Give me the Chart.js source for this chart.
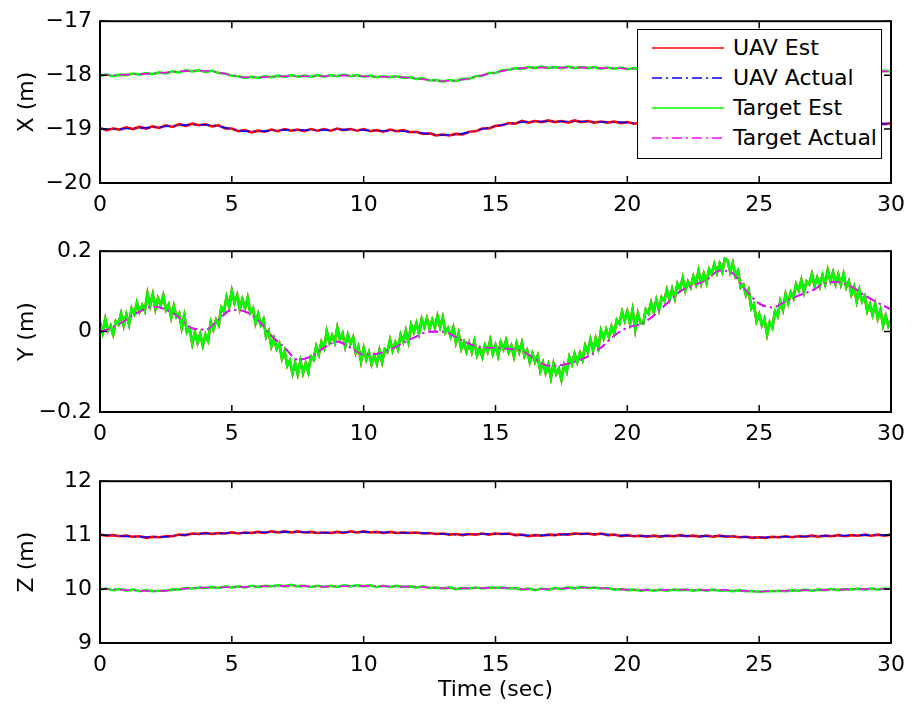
<!DOCTYPE html>
<html>
<head>
<meta charset="utf-8">
<script src="https://cdn.jsdelivr.net/npm/chart.js@4.4.1/dist/chart.umd.min.js"></script>
<style>
    body { margin: 0; background: #fff; }
    #wrap { position: relative; width: 914px; height: 708px; }
    canvas { position: absolute; left: 0; }
    #legend {
        position: absolute; left: 637px; top: 29px; width: 243px; height: 125px;
        border: 1.5px solid #000; background: #fff;
        font-family: "DejaVu Sans", sans-serif; font-size: 22px; color: #000;
        padding-top: 3px; box-sizing: content-box;
    }
    .row { height: 30px; line-height: 30px; display: flex; align-items: center; }
    .row svg { margin-left: 14px; margin-right: 9px; }
</style>
</head>
<body>
<div id="wrap">
    <canvas id="chartX" width="914" height="230" style="top:0"></canvas>
    <canvas id="chartY" width="914" height="230" style="top:230px"></canvas>
    <canvas id="chartZ" width="914" height="248" style="top:460px"></canvas>
    <div id="legend"></div>
</div>
<script>
// sample spacing (sec) of each kind of series
const T_ACTUAL = 0.5;
const T_EST_XZ = 0.25;
const T_EST_Y = 0.1;

const xTicks = [0, 5, 10, 15, 20, 25, 30];

// ---- X (m) ----
const xUavActual = [-19.0, -19.0, -18.99, -18.98, -18.97, -18.95, -18.93, -18.92, -18.92, -18.95,
    -19.0, -19.04, -19.04, -19.03, -19.02, -19.02, -19.02, -19.02, -19.01, -19.01,
    -19.02, -19.03, -19.03, -19.04, -19.06, -19.09, -19.11, -19.1, -19.06, -19.0,
    -18.95, -18.9, -18.87, -18.86, -18.86, -18.86, -18.86, -18.86, -18.87, -18.87,
    -18.88, -18.89, -18.9, -18.91, -18.92, -18.93, -18.94, -18.94, -18.94, -18.94,
    -18.94, -18.93, -18.92, -18.92, -18.91, -18.91, -18.9, -18.9, -18.9, -18.9, -18.9];
const xTargetActual = [-18.0, -18.0, -17.99, -17.98, -17.97, -17.95, -17.93, -17.92, -17.92, -17.95,
    -18.0, -18.04, -18.04, -18.03, -18.02, -18.02, -18.02, -18.02, -18.01, -18.01,
    -18.02, -18.03, -18.03, -18.04, -18.06, -18.09, -18.11, -18.1, -18.06, -18.0,
    -17.95, -17.9, -17.87, -17.86, -17.86, -17.86, -17.86, -17.86, -17.87, -17.87,
    -17.88, -17.89, -17.9, -17.91, -17.92, -17.93, -17.94, -17.94, -17.94, -17.94,
    -17.94, -17.93, -17.92, -17.92, -17.92, -17.92, -17.92, -17.92, -17.92, -17.93, -17.93];
const xUavEst = [-18.98, -19.02, -18.99, -19.01, -18.97, -19.00, -18.96, -18.99, -18.95, -18.98,
    -18.93, -18.96, -18.91, -18.94, -18.90, -18.93, -18.91, -18.95, -18.93, -18.99,
    -18.99, -19.04, -19.02, -19.06, -19.03, -19.05, -19.01, -19.04, -19.00, -19.03,
    -19.01, -19.04, -19.00, -19.03, -19.00, -19.03, -18.99, -19.02, -19.00, -19.03,
    -19.00, -19.04, -19.02, -19.05, -19.01, -19.04, -19.02, -19.06, -19.05, -19.09,
    -19.08, -19.12, -19.10, -19.12, -19.09, -19.10, -19.05, -19.04, -18.99, -18.99,
    -18.94, -18.93, -18.89, -18.90, -18.85, -18.88, -18.85, -18.87, -18.84, -18.87,
    -18.85, -18.88, -18.84, -18.87, -18.85, -18.88, -18.86, -18.88, -18.86, -18.89,
    -18.87, -18.90, -18.88, -18.91, -18.89, -18.92, -18.90, -18.93, -18.91, -18.94,
    -18.92, -18.95, -18.93, -18.95, -18.93, -18.96, -18.92, -18.95, -18.93, -18.95,
    -18.92, -18.95, -18.92, -18.94, -18.91, -18.93, -18.90, -18.93, -18.90, -18.92,
    -18.89, -18.92, -18.89, -18.91, -18.88, -18.91, -18.89, -18.92, -18.89, -18.91, -18.89];
const xTargetEst = [-18.01, -17.99, -18.02, -17.99, -18.00, -17.97, -17.99, -17.96, -17.98, -17.95,
    -17.97, -17.93, -17.95, -17.91, -17.93, -17.91, -17.94, -17.92, -17.96, -17.97,
    -18.01, -18.02, -18.05, -18.03, -18.05, -18.02, -18.04, -18.01, -18.03, -18.00,
    -18.03, -18.01, -18.03, -18.00, -18.03, -18.00, -18.02, -17.99, -18.02, -18.00,
    -18.03, -18.01, -18.04, -18.02, -18.04, -18.02, -18.05, -18.04, -18.07, -18.06,
    -18.10, -18.09, -18.12, -18.09, -18.11, -18.07, -18.07, -18.02, -18.01, -17.96,
    -17.96, -17.91, -17.90, -17.87, -17.88, -17.85, -17.87, -17.84, -17.87, -17.85,
    -17.87, -17.84, -17.87, -17.85, -17.87, -17.85, -17.88, -17.86, -17.88, -17.86,
    -17.89, -17.87, -17.90, -17.88, -17.91, -17.89, -17.92, -17.90, -17.93, -17.91,
    -17.94, -17.92, -17.95, -17.93, -17.95, -17.93, -17.95, -17.93, -17.95, -17.93,
    -17.95, -17.92, -17.94, -17.92, -17.93, -17.91, -17.93, -17.91, -17.92, -17.90,
    -17.92, -17.90, -17.92, -17.90, -17.92, -17.91, -17.93, -17.91, -17.94, -17.92, -17.93];

// ---- Y (m) ---- (UAV and target tracks lie on top of each other)
const yActual = [0.0, 0.011, 0.03, 0.05, 0.062, 0.055, 0.035, 0.008, 0.005, 0.03,
    0.054, 0.05, 0.028, -0.01, -0.04, -0.07, -0.062, -0.04, -0.025, -0.04,
    -0.057, -0.055, -0.045, -0.028, -0.012, 0.0, 0.0, -0.014, -0.03, -0.04,
    -0.04, -0.043, -0.048, -0.068, -0.085, -0.083, -0.075, -0.062, -0.04, -0.01,
    0.01, 0.018, 0.04, 0.07, 0.1, 0.115, 0.128, 0.152, 0.145, 0.102,
    0.07, 0.06, 0.075, 0.09, 0.102, 0.12, 0.123, 0.112, 0.09, 0.072, 0.055];
const yEst = [
    0.023, -0.003, 0.031, 0.002, 0.015, -0.007, 0.026, 0.018, 0.045, 0.015,
    0.043, 0.018, 0.057, 0.043, 0.072, 0.049, 0.066, 0.051, 0.095, 0.065,
    0.092, 0.056, 0.083, 0.066, 0.090, 0.054, 0.067, 0.035, 0.064, 0.037,
    0.046, 0.009, 0.040, -0.002, 0.007, -0.030, -0.002, -0.028, -0.006, -0.035,
    -0.008, -0.023, 0.024, 0.005, 0.029, 0.016, 0.060, 0.050, 0.086, 0.062,
    0.101, 0.072, 0.091, 0.056, 0.080, 0.057, 0.084, 0.047, 0.058, 0.021,
    0.044, 0.017, 0.031, -0.013, 0.001, -0.037, -0.017, -0.043, -0.030, -0.067,
    -0.048, -0.085, -0.072, -0.104, -0.078, -0.106, -0.073, -0.103, -0.079, -0.101,
    -0.062, -0.070, -0.037, -0.057, -0.026, -0.041, 0.001, -0.027, -0.009, -0.027,
    0.010, -0.020, -0.005, -0.037, -0.008, -0.030, -0.014, -0.053, -0.037, -0.074,
    -0.041, -0.069, -0.051, -0.081, -0.060, -0.080, -0.047, -0.076, -0.044, -0.051,
    -0.021, -0.047, -0.027, -0.044, -0.008, -0.026, 0.002, -0.026, 0.017, -0.001,
    0.021, -0.005, 0.031, 0.011, 0.033, 0.008, 0.029, 0.010, 0.039, 0.011,
    0.035, -0.002, 0.009, -0.012, 0.010, -0.028, -0.004, -0.043, -0.026, -0.050,
    -0.028, -0.051, -0.024, -0.059, -0.042, -0.063, -0.034, -0.050, -0.022, -0.055,
    -0.034, -0.060, -0.027, -0.044, -0.022, -0.051, -0.035, -0.062, -0.029, -0.051,
    -0.028, -0.061, -0.047, -0.076, -0.054, -0.076, -0.060, -0.098, -0.077, -0.103,
    -0.082, -0.115, -0.080, -0.105, -0.092, -0.120, -0.083, -0.100, -0.063, -0.081,
    -0.055, -0.076, -0.053, -0.070, -0.035, -0.051, -0.020, -0.047, -0.017, -0.041,
    0.003, -0.017, 0.005, -0.014, 0.013, -0.005, 0.029, 0.020, 0.049, 0.027,
    0.050, 0.020, 0.054, 0.005, 0.045, 0.021, 0.020, 0.055, 0.045, 0.072,
    0.048, 0.079, 0.054, 0.085, 0.076, 0.104, 0.080, 0.106, 0.083, 0.119,
    0.105, 0.133, 0.102, 0.124, 0.110, 0.137, 0.118, 0.151, 0.120, 0.144,
    0.122, 0.155, 0.143, 0.168, 0.146, 0.169, 0.149, 0.181, 0.177, 0.149,
    0.170, 0.138, 0.151, 0.110, 0.117, 0.090, 0.104, 0.058, 0.068, 0.026,
    0.043, 0.016, 0.032, -0.007, 0.023, 0.010, 0.050, 0.038, 0.075, 0.054,
    0.093, 0.071, 0.098, 0.083, 0.118, 0.103, 0.128, 0.098, 0.125, 0.118,
    0.143, 0.115, 0.134, 0.113, 0.140, 0.118, 0.153, 0.126, 0.147, 0.118,
    0.142, 0.117, 0.143, 0.110, 0.125, 0.092, 0.111, 0.075, 0.104, 0.075,
    0.088, 0.051, 0.068, 0.042, 0.069, 0.032, 0.054, 0.015, 0.039, 0.014, 0.030];

// ---- Z (m) ----
const zUavActual = [11.0, 10.995, 10.98, 10.97, 10.965, 10.97, 11.0, 11.02, 11.03, 11.03,
    11.04, 11.04, 11.05, 11.055, 11.06, 11.06, 11.05, 11.045, 11.05, 11.055,
    11.06, 11.055, 11.05, 11.045, 11.045, 11.03, 11.02, 11.01, 11.015, 11.02,
    11.025, 11.02, 11.0, 10.995, 11.0, 11.01, 11.02, 11.025, 11.02, 11.0,
    10.99, 10.985, 10.98, 10.985, 10.99, 10.985, 10.98, 10.985, 10.975, 10.965,
    10.955, 10.965, 10.97, 10.975, 10.98, 10.985, 10.99, 10.995, 11.0, 11.0, 11.0];
const zTargetActual = [10.0, 9.995, 9.98, 9.97, 9.965, 9.97, 10.0, 10.02, 10.03, 10.03,
    10.04, 10.04, 10.05, 10.055, 10.06, 10.06, 10.05, 10.045, 10.05, 10.055,
    10.06, 10.055, 10.05, 10.045, 10.045, 10.03, 10.02, 10.01, 10.015, 10.02,
    10.025, 10.02, 10.0, 9.995, 10.0, 10.01, 10.02, 10.03, 10.02, 10.0,
    9.99, 9.985, 9.98, 9.985, 9.99, 9.985, 9.98, 9.985, 9.975, 9.965,
    9.955, 9.965, 9.97, 9.975, 9.98, 9.985, 9.99, 9.995, 10.0, 10.0, 10.0];
const zUavEst = [11.01, 10.99, 11.00, 10.98, 10.99, 10.97, 10.98, 10.95, 10.97, 10.96,
    10.98, 10.98, 11.01, 11.00, 11.03, 11.02, 11.04, 11.02, 11.04, 11.03,
    11.05, 11.03, 11.05, 11.04, 11.06, 11.04, 11.07, 11.05, 11.07, 11.05,
    11.07, 11.05, 11.06, 11.04, 11.05, 11.04, 11.06, 11.04, 11.07, 11.05,
    11.07, 11.05, 11.06, 11.04, 11.06, 11.04, 11.05, 11.04, 11.05, 11.03,
    11.04, 11.02, 11.03, 11.01, 11.02, 11.00, 11.02, 11.01, 11.03, 11.01,
    11.03, 11.02, 11.03, 11.00, 11.01, 10.98, 11.00, 10.99, 11.01, 11.00,
    11.02, 11.01, 11.03, 11.02, 11.03, 11.01, 11.03, 11.00, 11.01, 10.98,
    11.00, 10.98, 10.99, 10.97, 10.99, 10.97, 10.99, 10.98, 11.00, 10.98,
    10.99, 10.97, 10.99, 10.97, 10.99, 10.97, 10.98, 10.96, 10.97, 10.95,
    10.96, 10.95, 10.97, 10.96, 10.98, 10.96, 10.98, 10.97, 10.99, 10.97,
    10.99, 10.98, 11.00, 10.98, 11.00, 10.99, 11.01, 10.99, 11.01, 10.99, 11.01];
const zTargetEst = [9.99, 10.01, 9.98, 10.00, 9.97, 9.99, 9.96, 9.98, 9.96, 9.97,
    9.97, 9.99, 9.99, 10.02, 10.01, 10.03, 10.02, 10.04, 10.02, 10.05,
    10.03, 10.05, 10.03, 10.06, 10.04, 10.06, 10.05, 10.07, 10.05, 10.08,
    10.05, 10.06, 10.04, 10.06, 10.04, 10.06, 10.04, 10.07, 10.05, 10.07,
    10.05, 10.07, 10.04, 10.06, 10.04, 10.06, 10.04, 10.05, 10.03, 10.05,
    10.02, 10.03, 10.01, 10.03, 10.00, 10.02, 10.01, 10.03, 10.01, 10.03,
    10.02, 10.03, 10.01, 10.02, 9.99, 10.01, 9.98, 10.01, 9.99, 10.02,
    10.00, 10.03, 10.01, 10.04, 10.02, 10.03, 10.01, 10.02, 9.99, 10.00,
    9.98, 9.99, 9.97, 9.99, 9.97, 9.99, 9.97, 9.99, 9.98, 9.99,
    9.97, 9.99, 9.97, 9.99, 9.97, 9.98, 9.96, 9.98, 9.96, 9.96,
    9.95, 9.96, 9.96, 9.97, 9.96, 9.98, 9.97, 9.99, 9.97, 9.99,
    9.98, 10.00, 9.98, 10.00, 9.99, 10.01, 9.99, 10.01, 9.99, 10.01, 10.00];

const seriesNames = ["UAV Est", "UAV Actual", "Target Est", "Target Actual"];
const seriesColors = ["#ff0000", "#0000ff", "#00ff00", "#ff00ff"];
const DASH_DOT = [10, 4, 2, 4];
const FONT = '"DejaVu Sans", sans-serif';

Chart.defaults.font.family = FONT;
Chart.defaults.font.size = 22;
Chart.defaults.color = "#000";

function toPoints(step, values) {
    return values.map((v, i) => ({ x: i * step, y: v }));
}

function minusSign(v) {
    const n = Math.round(v * 1000) / 1000;
    return String(n).replace("-", "\u2212");
}

// box round the axes with inward ticks on all four sides, like a MATLAB figure
const boxPlugin = {
    id: "matlabBox",
    afterDraw(chart) {
        const { ctx, chartArea: a, scales } = chart;
        const len = 7;
        ctx.save();
        ctx.strokeStyle = "#000";
        ctx.lineWidth = 1.5;
        ctx.beginPath();
        scales.x.ticks.forEach(t => {
            const px = scales.x.getPixelForValue(t.value);
            ctx.moveTo(px, a.bottom); ctx.lineTo(px, a.bottom - len);
            ctx.moveTo(px, a.top); ctx.lineTo(px, a.top + len);
        });
        scales.y.ticks.forEach(t => {
            const py = scales.y.getPixelForValue(t.value);
            ctx.moveTo(a.left, py); ctx.lineTo(a.left + len, py);
            ctx.moveTo(a.right, py); ctx.lineTo(a.right - len, py);
        });
        ctx.stroke();
        ctx.lineWidth = 2;
        ctx.strokeRect(a.left, a.top, a.right - a.left, a.bottom - a.top);
        ctx.restore();
    }
};

function makeDatasets(uavEst, uavActual, tgtEst, tgtActual, estStep, estWidth) {
    return [
        { label: seriesNames[0], data: toPoints(estStep, uavEst), borderColor: seriesColors[0], borderWidth: estWidth, order: 4 },
        { label: seriesNames[1], data: toPoints(T_ACTUAL, uavActual), borderColor: seriesColors[1], borderWidth: 1.6, borderDash: DASH_DOT, cubicInterpolationMode: "monotone", order: 3 },
        { label: seriesNames[2], data: toPoints(estStep, tgtEst), borderColor: seriesColors[2], borderWidth: estWidth, order: 2 },
        { label: seriesNames[3], data: toPoints(T_ACTUAL, tgtActual), borderColor: seriesColors[3], borderWidth: 1.6, borderDash: DASH_DOT, cubicInterpolationMode: "monotone", order: 1 }
    ];
}

function makeChart(id, datasets, yOpts, xHeight, topPad, xTitle) {
    const ctx = document.getElementById(id).getContext("2d");
    return new Chart(ctx, {
        type: "line",
        data: { datasets },
        options: {
            responsive: false,
            animation: false,
            layout: { padding: { left: 0, right: 21, top: topPad, bottom: 0 } },
            elements: { point: { radius: 0 }, line: { tension: 0 } },
            plugins: { legend: { display: false }, tooltip: { enabled: false } },
            scales: {
                x: {
                    type: "linear",
                    min: 0, max: 30,
                    afterBuildTicks: s => { s.ticks = xTicks.map(v => ({ value: v })); },
                    ticks: { padding: 9, maxRotation: 0, callback: v => minusSign(v) },
                    grid: { display: false, drawTicks: false },
                    border: { display: false },
                    title: xTitle ? { display: true, text: xTitle, padding: { top: 0, bottom: 5 } } : { display: false },
                    afterFit: s => { s.height = xHeight; }
                },
                y: {
                    min: yOpts.min, max: yOpts.max,
                    afterBuildTicks: s => { s.ticks = yOpts.ticks.map(v => ({ value: v })); },
                    ticks: { padding: 8, callback: v => minusSign(v) },
                    grid: { display: false, drawTicks: false },
                    border: { display: false },
                    title: { display: true, text: yOpts.title, padding: { top: 14, bottom: 0 } },
                    afterFit: s => { s.width = 100; }
                }
            }
        },
        plugins: [boxPlugin]
    });
}

makeChart("chartX",
    makeDatasets(xUavEst, xUavActual, xTargetEst, xTargetActual, T_EST_XZ, 2.6),
    { min: -20, max: -17, ticks: [-20, -19, -18, -17], title: "X (m)" }, 47, 16);

makeChart("chartY",
    makeDatasets(yEst, yActual, yEst, yActual, T_EST_Y, 2.6),
    { min: -0.2, max: 0.2, ticks: [-0.2, 0, 0.2], title: "Y (m)" }, 48, 17);

makeChart("chartZ",
    makeDatasets(zUavEst, zUavActual, zTargetEst, zTargetActual, T_EST_XZ, 2.6),
    { min: 9, max: 12, ticks: [9, 10, 11, 12], title: "Z (m)" }, 65, 16, "Time (sec)");

// legend box drawn over the top axes
const legend = document.getElementById("legend");
seriesNames.forEach((name, i) => {
    const row = document.createElement("div");
    row.className = "row";
    const dash = i % 2 === 1 ? DASH_DOT.join(" ") : "none";
    row.innerHTML =
        `<svg width="72" height="4"><line x1="0" y1="2" x2="72" y2="2" stroke="${seriesColors[i]}" stroke-width="1.5" stroke-dasharray="${dash}"/></svg>` +
        `<span>${name}</span>`;
    legend.appendChild(row);
});
</script>
</body>
</html>
